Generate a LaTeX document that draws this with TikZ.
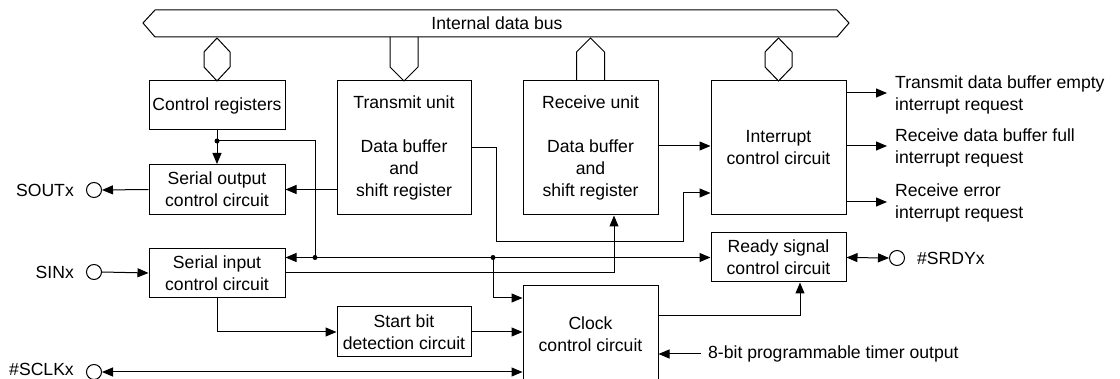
\documentclass[tikz,border=0pt]{standalone}
\usepackage{fontspec}
\setmainfont{Liberation Sans}
\usetikzlibrary{arrows.meta,positioning,calc}

\tikzset{
  blk/.style={draw, line width=1pt, align=center, inner sep=0pt},
  conn/.style={line width=1pt, -{Triangle[length=11pt,width=9pt]}},
  bidir/.style={line width=1pt, {Triangle[length=11pt,width=9pt]}-{Triangle[length=11pt,width=9pt]}},
  term/.style={draw, circle, line width=1pt, minimum size=15pt, inner sep=0pt},
  lbl/.style={inner sep=0pt, align=left}
}

\begin{document}
\begin{tikzpicture}[x=1pt,y=-1pt,font=\fontsize{17.6}{22}\selectfont]
        \useasboundingbox (0,0) rectangle (1120,379);
        % Internal data bus
        \draw[line width=1pt] (143,23) -- (155,10) -- (837,10) -- (849,23) -- (837,37) -- (155,37) -- cycle;
        \node (bus) at (497,23) {Internal data bus};
        % Blocks
        \node[blk, minimum width=136pt, minimum height=49pt] (ctrl) at (217,105.5) {Control registers};
        \node[blk, minimum width=134pt, minimum height=134pt] (tx) at (404,148) {Transmit unit\\[22pt]Data buffer\\and\\shift register};
        \node[blk, minimum width=135pt, minimum height=134pt] (rx) at (590.5,148) {Receive unit\\[22pt]Data buffer\\and\\shift register};
        \node[blk, minimum width=135pt, minimum height=134pt] (intr) at (778.5,148) {Interrupt\\control circuit};
        \node[blk, minimum width=136pt, minimum height=50pt] (sout) at (217,189.5) {Serial output\\control circuit};
        \node[blk, minimum width=136pt, minimum height=49pt] (sin) at (217,273) {Serial input\\control circuit};
        \node[blk, minimum width=134pt, minimum height=50pt] (start) at (404,332) {Start bit\\detection circuit};
        \node[blk, minimum width=135pt, minimum height=97pt] (clock) at (590.5,334.5) {Clock\\control circuit};
        \node[blk, minimum width=135pt, minimum height=49pt] (ready) at (778.5,257.5) {Ready signal\\control circuit};
        % Bus connections
        \draw[line width=1pt, fill=white] (217,38) -- (230,52) -- (230,67) -- (217,81) -- (204,67) -- (204,52) -- cycle;
        \draw[line width=1pt] (390,37) -- (390,67) -- (404,81) -- (418,67) -- (418,37);
        \draw[line width=1pt] (576.5,81) -- (576.5,52) -- (590.5,38) -- (604.5,52) -- (604.5,81);
        \draw[line width=1pt, fill=white] (778.5,38) -- (792,52) -- (792,67) -- (778.5,81) -- (765,67) -- (765,52) -- cycle;
        % Terminals
        \node[term] (pout) at (94,190) {};
        \node[lbl, left=12pt of pout] (tout) {SOUTx};
        \node[term] (pin) at (94,272) {};
        \node[lbl, left=12pt of pin] (tin) {SINx};
        \node[term] (pclk) at (94,372) {};
        \node[lbl, anchor=east] (tclk) at (74,369.5) {\#SCLKx};
        \node[term] (prdy) at (897,258) {};
        \node[lbl, right=12pt of prdy] (trdy) {\#SRDYx};
        % Interrupt requests
        \node[lbl, anchor=west] (req1) at (895,95) {Transmit data buffer empty\\interrupt request};
        \node[lbl, anchor=west] (req2) at (895,148) {Receive data buffer full\\interrupt request};
        \node[lbl, anchor=west] (req3) at (895,203) {Receive error\\interrupt request};
        \node[lbl, anchor=west] (tmr) at (708,354) {8-bit programmable timer output};
        % Junctions
        \coordinate (cdot) at (217,141);
        \coordinate (j1) at (315,257.5);
        \coordinate (j2) at (493,257.5);
        % Connectors
        \draw[conn] (ctrl.south) -- (sout.north);
        \draw[conn] (cdot) -| (j1) -- (sin.east |- j1);
        \draw[conn] (j1) -- (ready.west);
        \draw[conn] (j2) |- (clock.west |- sin.south);
        \draw[conn] (tx.west |- sout.east) -- (sout.east);
        \draw[conn] (sout.west) -- (pout.east);
        \draw[conn] (pin.east) -- (sin.west);
        \draw[conn] (sin.east) -| ([xshift=23.5pt]rx.south);
        \draw[conn] (sin.south) |- (start.west);
        \draw[conn] (start.east) -- (clock.west |- start.east);
        \draw[conn] (tx.east) -- (496,148) |- (683,242) |- (intr.west |- 0,193);
        \draw[conn] (rx.east |- 0,146) -- (intr.west |- 0,146);
        \draw[conn] (intr.east |- 0,93) -- ([xshift=-8pt]req1.west |- 0,93);
        \draw[conn] (intr.east |- 0,146) -- ([xshift=-8pt]req2.west |- 0,146);
        \draw[conn] (intr.east |- 0,202) -- ([xshift=-8pt]req3.west |- 0,202);
        \draw[conn] (clock.east |- 0,316) -| ([xshift=21.5pt]ready.south);
        \draw[conn] ([xshift=-7pt]tmr.west) -- (clock.east |- tmr.west);
        \draw[bidir] (ready.east) -- (prdy.west);
        \draw[bidir] (pclk.east) -- (clock.west |- pclk.east);
        % Dots
        \fill (cdot) circle (2.5pt);
        \fill (j1) circle (2.5pt);
        \fill (j2) circle (2.5pt);
      \end{tikzpicture}
\end{document}
